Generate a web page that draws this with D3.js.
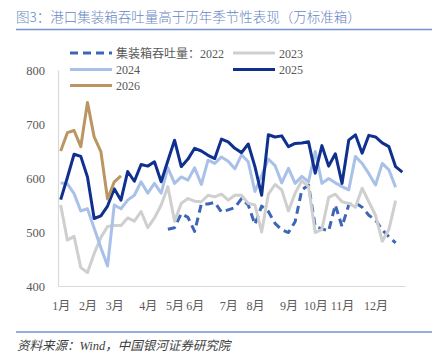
<!DOCTYPE html>
<html><head><meta charset="utf-8">
<script src="https://cdn.jsdelivr.net/npm/d3@7/dist/d3.min.js"></script>
<style>
html,body{margin:0;padding:0;background:#fff;}
svg{display:block;}
</style></head>
<body><svg id="c" width="436" height="360"></svg>
<script>
// ---- data ----
const weeks = [0,1,2,3,4,5,6,7,8,9,10,11,12,13,14,15,16,17,18,19,20,21,22,23,24,25,
  26,27,28,29,30,31,32,33,34,35,36,37,38,39,40,41,42,43,44,45,46,47,48,49,50,51];
const tickWeeks = [0,4,8,13,17,20,25,29,34,38,42,47];
const tickLabels = ["1月","2月","3月","4月","5月","6月","7月","8月","9月","10月","11月","12月"];
const yTicks = [400,500,600,700,800];

const s2022 = [null,null,null,null,null,null,null,null,null,null,null,null,null,null,null,null,
  505,508,534,527,501,552,552,555,537,541,545,562,550,514,548,538,516,504,499,519,578,587,510,506,
  502,550,510,550,554,546,531,522,504,491,480];
const s2023 = [550,485,492,434,425,460,490,510,512,512,526,520,538,508,526,550,584,520,553,562,
  557,556,568,565,570,559,568,568,553,550,500,570,588,578,539,572,595,584,499,505,
  564,570,556,553,546,581,556,531,483,505,558];
const s2024 = [591,589,571,539,543,507,471,437,550,543,559,568,593,572,590,572,619,590,602,596,
  619,588,633,627,639,631,617,643,630,575,605,635,623,591,618,590,603,593,649,590,
  599,591,584,578,640,627,608,587,627,615,583];
const s2025 = [560,601,644,640,602,525,530,548,580,559,612,594,625,622,630,593,632,670,621,635,
  655,650,642,636,672,667,655,647,663,621,568,680,676,678,658,664,665,667,609,660,
  622,645,590,670,680,646,679,676,665,658,621,611];
const s2026 = [650,684,688,658,740,676,649,561,593,604];

const seriesNames = ["集装箱吞吐量：2022","2023","2024","2025","2026"];
const seriesData = [s2022,s2023,s2024,s2025,s2026];
const seriesColors = ["#3d66b6","#cfcfcf","#a9c0e9","#10308f","#bb9562"];

// ---- drawing ----
const svg = d3.select("#c");
const serif = "'Liberation Serif','Noto Sans CJK SC',serif";
const sans = "'Noto Sans CJK SC','Noto Sans',sans-serif";

// title
svg.append("text").attr("x",16).attr("y",22)
  .style("font-family",sans).style("font-size","13.5px").style("font-weight","300").attr("fill","#6786c4")
  .text("图3：港口集装箱吞吐量高于历年季节性表现（万标准箱）");
svg.append("line").attr("x1",16).attr("x2",432).attr("y1",29.5).attr("y2",29.5)
  .attr("stroke","#7394cd").attr("stroke-width",1.3);

const x = d3.scalePoint().domain(weeks).range([58,405]).padding(0.4);
const y = d3.scaleLinear().domain([400,800]).range([286,70]);

// y axis
const ya = svg.append("g").attr("transform","translate(58,0)")
  .call(d3.axisLeft(y).tickValues(yTicks).tickSize(0).tickPadding(13).tickSizeOuter(0));
ya.select(".domain").attr("stroke","#d9d9d9").attr("stroke-width",1.2);
ya.selectAll("text").style("font-family",serif).style("font-size","12.5px").attr("fill","#595959");

// x axis
const xa = svg.append("g").attr("transform","translate(0,286)")
  .call(d3.axisBottom(x).tickValues(tickWeeks).tickFormat((d,i)=>tickLabels[i]).tickSize(0).tickPadding(15).tickSizeOuter(0));
xa.select(".domain").attr("stroke","#d9d9d9").attr("stroke-width",1.2);
xa.selectAll("text").style("font-family",serif).style("font-size","12px").attr("fill","#595959");

// lines
const line = d3.line().defined(d=>d[1]!=null).x(d=>x(d[0])).y(d=>y(d[1]));
seriesData.forEach((s,k)=>{
  const pts = s.map((v,i)=>[weeks[i],v]);
  const p = svg.append("path").attr("d",line(pts)).attr("fill","none")
    .attr("stroke",seriesColors[k]).attr("stroke-width",3)
    .attr("stroke-linejoin","round");
  if(k===0) p.attr("stroke-dasharray","8,5");
});

// legend
const legendPos = [[70,53],[233,53],[70,69.5],[233,69.5],[70,85.5]];
seriesNames.forEach((n,k)=>{
  const [lx,ly] = legendPos[k];
  const l = svg.append("line").attr("x1",lx).attr("x2",lx+42).attr("y1",ly).attr("y2",ly)
    .attr("stroke",seriesColors[k]).attr("stroke-width",3);
  if(k===0) l.attr("stroke-dasharray","8,5");
  svg.append("text").attr("x",lx+46).attr("y",ly+4.5)
    .style("font-family",serif).style("font-size","12px").attr("fill","#595959").text(n);
});

// source
svg.append("line").attr("x1",16).attr("x2",432).attr("y1",332).attr("y2",332)
  .attr("stroke","#7394cd").attr("stroke-width",1.3);
svg.append("text").attr("x",17).attr("y",349.5)
  .style("font-family",serif).style("font-size","12.5px").style("font-style","italic").attr("fill","#404040")
  .text("资料来源：Wind，中国银河证券研究院");
</script></body></html>
